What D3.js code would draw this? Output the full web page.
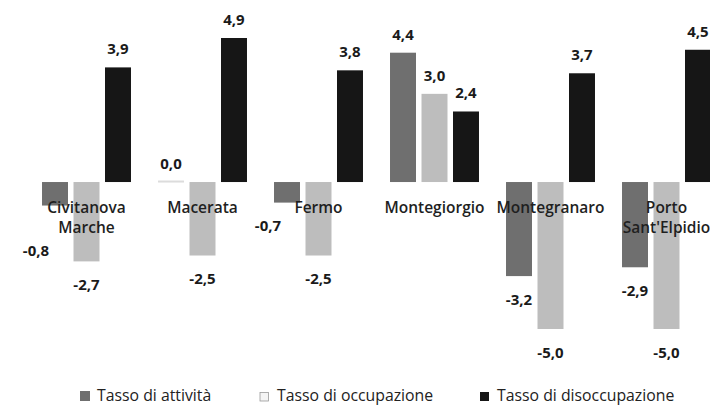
<!DOCTYPE html>
<html><head><meta charset="utf-8">
<script src="https://cdn.jsdelivr.net/npm/d3@7"></script>
<style>
html,body{margin:0;padding:0;background:#fff;}
svg{display:block;font-family:"Open Sans",sans-serif;}
</style></head>
<body><svg id="c" width="710" height="409"></svg>
<script>
const categories = ["Civitanova Marche","Macerata","Fermo","Montegiorgio","Montegranaro","Porto Sant'Elpidio"];
const seriesNames = ["Tasso di attività","Tasso di occupazione","Tasso di disoccupazione"];
const attivita = [-0.8, 0.0, -0.7, 4.4, -3.2, -2.9];
const occupazione = [-2.7, -2.5, -2.5, 3.0, -5.0, -5.0];
const disoccupazione = [3.9, 4.9, 3.8, 2.4, 3.7, 4.5];
const seriesValues = [attivita, occupazione, disoccupazione];
const colors = ["#6f6f6f","#bdbdbd","#161616"];

const svg = d3.select("#c");
const x0 = d3.scaleBand().domain(categories).range([28.5, 724.5]).paddingInner(0.233).paddingOuter(0.1165);
const x1 = d3.scaleBand().domain(seriesNames).range([0, x0.bandwidth()]).paddingInner(0.175);
const y = d3.scaleLinear().domain([-5, 4.9]).range([329, 38]);

const fmt = v => d3.format(".1f")(v).replace(".", ",").replace("−","-");

const data = [];
categories.forEach((c, i) => seriesNames.forEach((s, j) => data.push({c, s, j, v: seriesValues[j][i]})));

const g = svg.append("g");
g.selectAll("rect").data(data).join("rect")
  .attr("x", d => x0(d.c) + x1(d.s))
  .attr("width", x1.bandwidth())
  .attr("y", d => d.v === 0 ? y(0) - 1.5 : y(Math.max(0, d.v)))
  .attr("height", d => d.v === 0 ? 2 : Math.abs(y(d.v) - y(0)))
  .attr("fill", d => d.v === 0 ? "#dcdcdc" : colors[d.j]);

// category labels (drawn over the bars, like the reference)
const catBase = 213, lineGap = 20;
categories.forEach(c => {
  const words = c.split(" ");
  const cx = x0(c) + x0.bandwidth()/2;
  const t = g.append("text").attr("text-anchor","middle")
    .attr("x", cx).attr("y", catBase)
    .attr("font-size", 15.5).attr("font-weight", 600).attr("fill","#1f1f1f");
  if (words.length > 1) {
    t.append("tspan").attr("x", cx).attr("dy", 0).text(words[0]);
    t.append("tspan").attr("x", cx).attr("dy", lineGap).text(words.slice(1).join(" "));
  } else t.text(c);
});

// value labels
g.selectAll("text.val").data(data).join("text").attr("class","val")
  .attr("x", d => {
    const cx = x0(d.c) + x1(d.s) + x1.bandwidth()/2;
    return (d.v < 0 && d.v > -1) ? cx - 19 : cx;
  })
  .attr("y", d => {
    if (d.v >= 0) return y(d.v) - 13;
    const below = y(d.v) + 28.5;
    // small negative bars: label set beside the bar, below the category name
    if (d.v > -1) {
      const twoLines = d.c.includes(" ");
      return twoLines ? catBase + lineGap + 23 : y(d.v) + 28;
    }
    return below;
  })
  .attr("text-anchor","middle")
  .attr("font-size", 15).attr("font-weight", 700).attr("fill","#1a1a1a")
  .text(d => fmt(d.v));

// legend
const legX = [80, 260, 480];
const legSize = [10, 8.5, 9];
const leg = svg.append("g");
seriesNames.forEach((s, j) => {
  leg.append("rect").attr("x", legX[j]).attr("y", 401 - legSize[j]).attr("width", legSize[j]).attr("height", legSize[j])
    .attr("fill", j === 1 ? "#f4f4f4" : colors[j]).attr("stroke", j === 1 ? "#9a9a9a" : "none").attr("stroke-width", 0.8);
  leg.append("text").attr("x", legX[j] + 17).attr("y", 401)
    .attr("font-size", 15.8).attr("fill","#222").text(s);
});
</script></body></html>
